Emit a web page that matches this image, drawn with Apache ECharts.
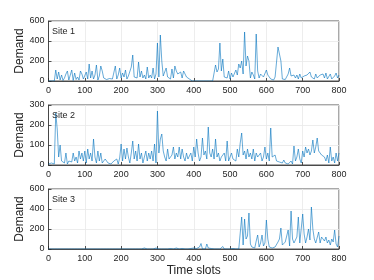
<!DOCTYPE html>
<html>
<head>
<meta charset="utf-8">
<script src="https://cdn.jsdelivr.net/npm/echarts@6/dist/echarts.min.js"></script>
<style>html,body{margin:0;padding:0;background:#fff;}#c{width:374px;height:280px;}</style>
</head>
<body>
<div id="c"></div>
<script>
// time slot spacing of the sampled values (slots 0,4,8,...,800)
const slotStep = 4;
const xTicks = [0, 100, 200, 300, 400, 500, 600, 700, 800];
const siteNames = ['Site 1', 'Site 2', 'Site 3'];
const yMax = [600, 300, 600];
const yInterval = [200, 100, 200];

const site1 = [
  0,0,0,0,0,110,20,90,10,60,
  5,30,70,100,10,20,110,5,80,15,
  40,10,100,70,20,40,90,20,170,30,
  100,20,60,160,10,50,150,100,30,20,
  15,10,25,10,20,30,150,20,60,130,
  30,80,40,110,20,50,70,140,260,40,
  60,30,190,40,100,30,60,20,140,30,
  60,30,130,20,70,380,40,460,200,50,
  90,130,40,60,20,120,30,150,100,70,
  50,90,30,100,80,40,30,20,10,0,
  0,0,0,0,0,0,0,0,0,0,
  0,0,0,0,0,160,90,120,380,100,
  220,40,60,30,100,20,80,40,20,110,
  60,170,130,200,70,490,150,250,200,30,
  90,60,20,470,100,30,70,90,40,20,
  110,60,40,20,30,10,40,20,340,320,
  200,20,40,15,20,70,130,50,30,60,
  30,60,20,70,30,20,50,30,60,40,
  90,40,60,20,70,30,20,60,40,70,
  30,80,20,40,70,20,10,50,80,30,
  60
];
const site2 = [
  5,0,10,0,5,260,180,40,100,20,
  30,10,60,5,20,10,15,60,20,40,
  10,70,30,60,20,70,10,80,30,60,
  20,130,40,10,70,20,60,10,20,30,
  25,10,15,5,10,20,10,30,5,35,
  105,20,80,30,85,40,10,60,120,30,
  70,20,105,30,60,10,40,70,20,60,
  30,70,20,105,10,270,60,130,155,70,
  40,20,80,30,20,50,90,30,60,40,
  90,30,80,40,20,60,30,40,60,20,
  90,40,130,60,20,40,135,50,70,30,
  190,60,40,80,30,130,40,60,20,40,
  30,60,20,120,20,40,60,30,40,20,
  80,40,110,160,50,70,30,80,40,60,
  30,80,20,60,40,30,60,20,40,90,
  30,60,20,185,40,30,50,20,30,15,
  20,10,25,10,15,5,10,20,5,95,
  20,40,80,30,10,70,40,90,60,80,
  50,70,125,60,90,135,70,80,50,60,
  40,20,50,10,90,20,40,10,60,20,
  60
];
const site3 = [
  0,0,0,0,0,0,0,0,0,0,
  0,0,0,0,0,0,0,0,0,0,
  0,0,0,0,0,0,0,0,0,0,
  0,0,0,0,0,0,0,0,0,0,
  0,0,0,0,0,0,0,0,0,0,
  0,0,0,0,0,0,0,0,0,0,
  0,0,0,5,0,0,10,0,0,0,
  0,5,0,0,10,0,0,5,0,0,
  0,10,0,0,5,0,0,0,10,0,
  0,0,5,0,0,10,0,0,5,0,
  10,0,5,0,20,55,0,10,0,50,
  10,0,5,0,0,10,0,5,0,0,
  25,0,5,0,20,0,10,5,0,0,
  0,0,10,320,40,300,100,130,360,50,
  20,40,10,80,140,20,60,140,30,60,
  290,100,20,40,10,30,20,20,70,100,
  210,40,20,70,60,190,30,380,100,60,
  40,120,320,60,80,350,150,60,120,200,
  90,420,200,100,60,80,170,60,120,100,
  80,120,60,90,40,100,70,190,50,20,
  130
];
const sites = [site1, site2, site3];

const FONT = '"Liberation Sans", Arial, sans-serif';
const tops = [21, 105, 189];
const H = 60;
const chart = echarts.init(document.getElementById('c'), null, {renderer: 'canvas'});

const grids = [], xAxes = [], yAxes = [], series = [], graphics = [];
sites.forEach((vals, k) => {
  grids.push({left: 48.5, width: 290.5, top: tops[k], height: H, show: true,
    borderColor: '#262626', borderWidth: 0.8, backgroundColor: '#fff', containLabel: false});
  xAxes.push({type: 'value', gridIndex: k, min: xTicks[0], max: xTicks[xTicks.length - 1], interval: 100,
    axisLine: {show: true, lineStyle: {color: '#262626', width: 0.8}},
    axisTick: {show: true, inside: true, length: 3, lineStyle: {color: '#262626', width: 0.8}},
    axisLabel: {color: '#262626', fontSize: 9, fontFamily: FONT, margin: 5},
    splitLine: {show: true, lineStyle: {color: '#e8e8e8', width: 0.8}},
    name: k === 2 ? 'Time slots' : '', nameLocation: 'middle', nameGap: 16, nameMoveOverlap: false,
    nameTextStyle: {color: '#262626', fontSize: 12, fontFamily: FONT}
  });
  yAxes.push({type: 'value', gridIndex: k, min: 0, max: yMax[k], interval: yInterval[k],
    axisLine: {show: true, lineStyle: {color: '#262626', width: 0.8}},
    axisTick: {show: true, inside: true, length: 3, lineStyle: {color: '#262626', width: 0.8}},
    axisLabel: {color: '#262626', fontSize: 9, fontFamily: FONT, margin: 4},
    splitLine: {show: true, lineStyle: {color: '#e8e8e8', width: 0.8}},
    name: 'Demand', nameLocation: 'middle', nameGap: 23, nameRotate: 90, nameMoveOverlap: false,
    nameTextStyle: {color: '#262626', fontSize: 12, fontFamily: FONT}
  });
  series.push({type: 'line', xAxisIndex: k, yAxisIndex: k, showSymbol: false, symbol: 'none',
    data: vals.map((v, i) => [i * slotStep, v]),
    lineStyle: {color: '#0072BD', width: 0.6}, animation: false, z: 3});
  graphics.push({type: 'text', left: 52, top: tops[k] + 6,
    style: {text: siteNames[k], fill: '#262626', font: '9px ' + FONT}, z: 10});
});

chart.setOption({
  animation: false,
  grid: grids, xAxis: xAxes, yAxis: yAxes, series: series, graphic: graphics
});
</script>
</body>
</html>
